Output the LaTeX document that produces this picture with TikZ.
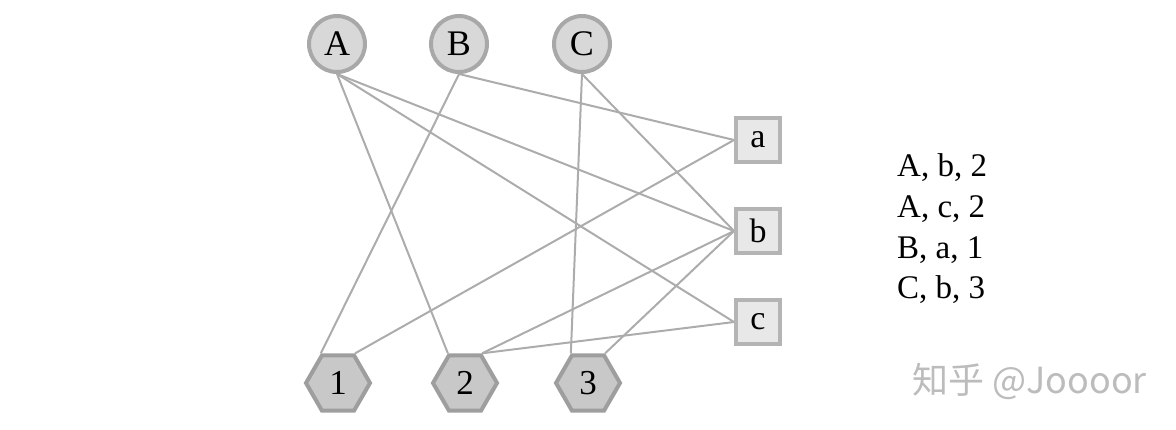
\documentclass[tikz,border=0pt]{standalone}
\usepackage{fontspec}
\setmainfont{Liberation Serif}
\newfontfamily\cjkfont{Noto Sans CJK SC}
\usetikzlibrary{shapes.geometric,backgrounds}
\definecolor{edgec}{RGB}{172,172,172}
\definecolor{circfill}{RGB}{216,216,216}
\definecolor{circdraw}{RGB}{168,168,168}
\definecolor{hexfill}{RGB}{200,200,200}
\definecolor{hexdraw}{RGB}{158,158,158}
\definecolor{sqfill}{RGB}{232,232,232}
\definecolor{sqdraw}{RGB}{180,180,180}
\definecolor{wmark}{RGB}{188,188,188}
\tikzset{
  upnode/.style={circle, minimum size=56pt, inner sep=0pt, fill=circfill, draw=circdraw, line width=4pt, font=\fontsize{36}{40}\selectfont},
  hexnode/.style={regular polygon, regular polygon sides=6, minimum size=64pt, inner sep=0pt, fill=hexfill, draw=hexdraw, line width=4pt, font=\fontsize{35}{40}\selectfont},
  sqnode/.style={rectangle, minimum size=44pt, inner sep=0pt, fill=sqfill, draw=sqdraw, line width=4pt, font=\fontsize{34}{36}\selectfont},
  link/.style={draw=edgec, line width=2pt},
  listtext/.style={anchor=base west, inner sep=0pt, font=\fontsize{33}{40}\selectfont},
}
\begin{document}
\begin{tikzpicture}[x=1pt,y=-1pt]
\useasboundingbox (0,0) rectangle (1176,430);
\node[upnode] (A) at (337,44) {A};
\node[upnode] (B) at (459,44) {B};
\node[upnode] (C) at (582,44) {C};
\node[sqnode] (a) at (758,140) {a};
\node[sqnode] (b) at (758,231) {b};
\node[sqnode] (c) at (758,322) {c};
\node[hexnode] (h1) at (338,383) {1};
\node[hexnode] (h2) at (465,383) {2};
\node[hexnode] (h3) at (588,383) {3};
\begin{scope}[on background layer]
\draw[link] (A.south) -- (b.west);
\draw[link] (A.south) -- (c.west);
\draw[link] (A.south) -- (h2.120);
\draw[link] (b.west) -- (h2.60);
\draw[link] (c.west) -- (h2.60);
\draw[link] (B.south) -- (a.west);
\draw[link] (B.south) -- (h1.120);
\draw[link] (a.west) -- (h1.60);
\draw[link] (C.south) -- (b.west);
\draw[link] (C.south) -- (h3.120);
\draw[link] (b.west) -- (h3.60);
\end{scope}
\node[listtext] (l1) at (897,177) {A, b, 2};
\node[listtext] (l2) at (897,218) {A, c, 2};
\node[listtext] (l3) at (897,258.5) {B, a, 1};
\node[listtext] (l4) at (897,299) {C, b, 3};
\node[anchor=west, inner sep=0pt, text=wmark, font=\cjkfont\fontsize{36}{40}\selectfont] (wm) at (912,381) {知乎 @Joooor};
\end{tikzpicture}
\end{document}
